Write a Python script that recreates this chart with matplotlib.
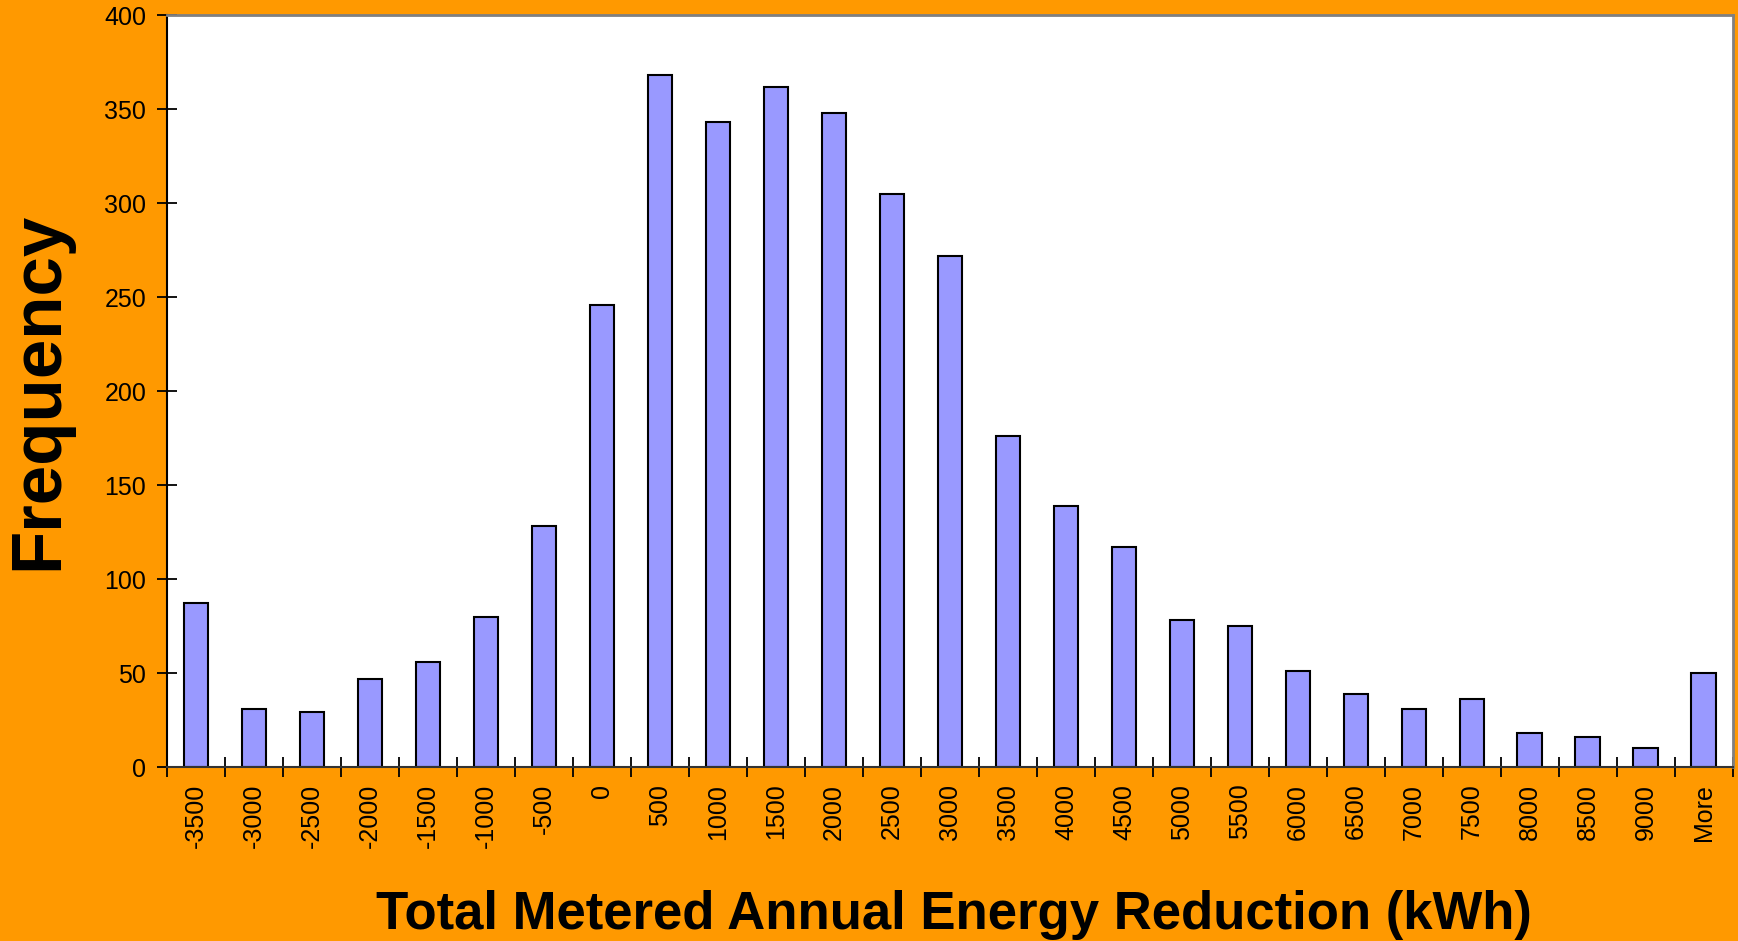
import numpy as np
import matplotlib
matplotlib.use("Agg")
import matplotlib.pyplot as plt

# histogram bins (upper bin edge) and counts
bins = ['-3500', '-3000', '-2500', '-2000', '-1500', '-1000', '-500', '0',
        '500', '1000', '1500', '2000', '2500', '3000', '3500', '4000', '4500',
        '5000', '5500', '6000', '6500', '7000', '7500', '8000', '8500', '9000',
        'More']
counts = [87, 31, 29, 47, 56, 80, 128, 246,
          368, 343, 362, 348, 305, 272, 176, 139, 117,
          78, 75, 51, 39, 31, 36, 18, 16, 10,
          50]
yticks = [0, 50, 100, 150, 200, 250, 300, 350, 400]

plt.rcParams['font.family'] = ['Liberation Sans', 'DejaVu Sans']

fig = plt.figure(figsize=(17.38, 9.41), dpi=100, facecolor='#FF9900')
ax = fig.add_axes([0.0961, 0.1849, 0.901, 0.799])
ax.set_facecolor('white')

x = np.arange(len(bins))
ax.bar(x, counts, width=0.43, color='#9999FF', edgecolor='black', linewidth=1.5)

ax.set_xlim(-0.5, len(bins) - 0.5)
ax.set_ylim(0, 400)
ax.set_yticks(yticks)
ax.tick_params(axis='y', direction='inout', length=14, width=1.3, pad=8, labelsize=18)

# category labels in the middle, ticks on the bin boundaries
ax.set_xticks(x)
ax.set_xticklabels(bins, rotation=90, fontsize=18)
ax.tick_params(axis='x', which='major', length=0, pad=12)
ax.set_xticks(np.arange(len(bins) + 1) - 0.5, minor=True)
ax.tick_params(axis='x', which='minor', direction='inout', length=14, width=1.3)

for s in ['top', 'right']:
    ax.spines[s].set_color('#808080')
    ax.spines[s].set_linewidth(2)
ax.spines['left'].set_color('black')
ax.spines['left'].set_linewidth(1.5)
ax.spines['bottom'].set_color('#333333')
ax.spines['bottom'].set_linewidth(1.5)

fig.text(0.0225, 0.585, 'Frequency', rotation=90, fontsize=51, fontweight='bold',
         ha='center', va='center')
fig.text(0.549, 0.028, 'Total Metered Annual Energy Reduction (kWh)', fontsize=38,
         fontweight='bold', ha='center', va='center')

fig.savefig('out.png', dpi=100, facecolor=fig.get_facecolor())
